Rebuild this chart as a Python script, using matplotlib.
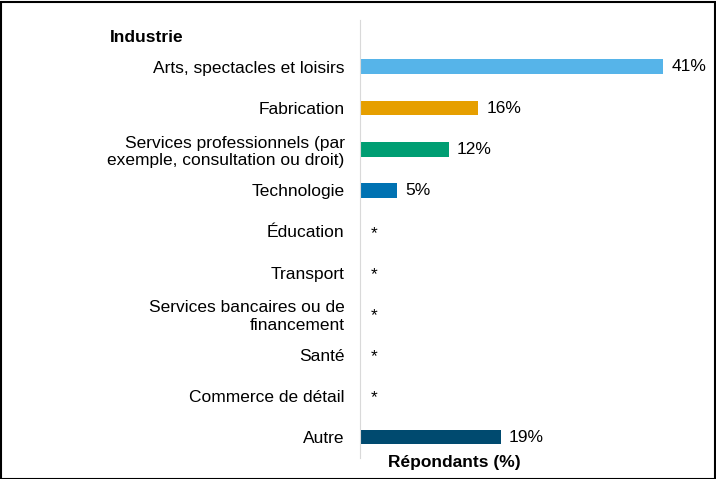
import matplotlib.pyplot as plt
from matplotlib.patches import Rectangle

plt.rcParams['font.family'] = ['Liberation Sans', 'DejaVu Sans']

categories = [
    "Arts, spectacles et loisirs",
    "Fabrication",
    "Services professionnels (par\nexemple, consultation ou droit)",
    "Technologie",
    "Éducation",
    "Transport",
    "Services bancaires ou de\nfinancement",
    "Santé",
    "Commerce de détail",
    "Autre",
]
# None = value suppressed (shown as *)
values = [41, 16, 12, 5, None, None, None, None, None, 19]
colors = ["#56b4e9", "#e69f00", "#009e73", "#0072b2", None, None, None, None, None, "#004a6f"]

FS = 12.5
W, H = 716, 479
fig = plt.figure(figsize=(W / 100, H / 100), dpi=100)
ax = fig.add_axes([360 / W, 21 / H, (715 - 360) / W, (458 - 20) / H])

for i, (v, c) in enumerate(zip(values, colors)):
    if v is None:
        ax.text(1.4, i + 0.05, "*", ha="left", va="center", fontsize=FS)
    else:
        ax.barh(i, v, height=0.36, color=c)
        ax.text(v + 1.1, i, f"{v}%", ha="left", va="center", fontsize=FS)

ax.set_xlim(0, 48)
ax.set_ylim(9.51, -1.14)
ax.set_yticks(range(len(categories)))
ax.set_yticklabels(categories, fontsize=FS, linespacing=1.2)
ax.tick_params(axis="y", length=0, pad=11)
ax.set_xticks([])
for side in ["top", "right", "bottom"]:
    ax.spines[side].set_visible(False)
ax.spines["left"].set_color("#d9d9d9")

fig.text(110 / W, 1 - 38 / H, "Industrie", fontsize=FS, fontweight="bold", va="center", ha="left")
fig.text(454 / W, 1 - 463 / H, "Répondants (%)", fontsize=FS, fontweight="bold", va="center", ha="center")

fig.patches.append(Rectangle((0.5 / W, 0.5 / H), 1 - 2 / W, 1 - 2 / H, transform=fig.transFigure,
                             fill=False, edgecolor="black", linewidth=1.5))

fig.savefig("out.png", dpi=100)
